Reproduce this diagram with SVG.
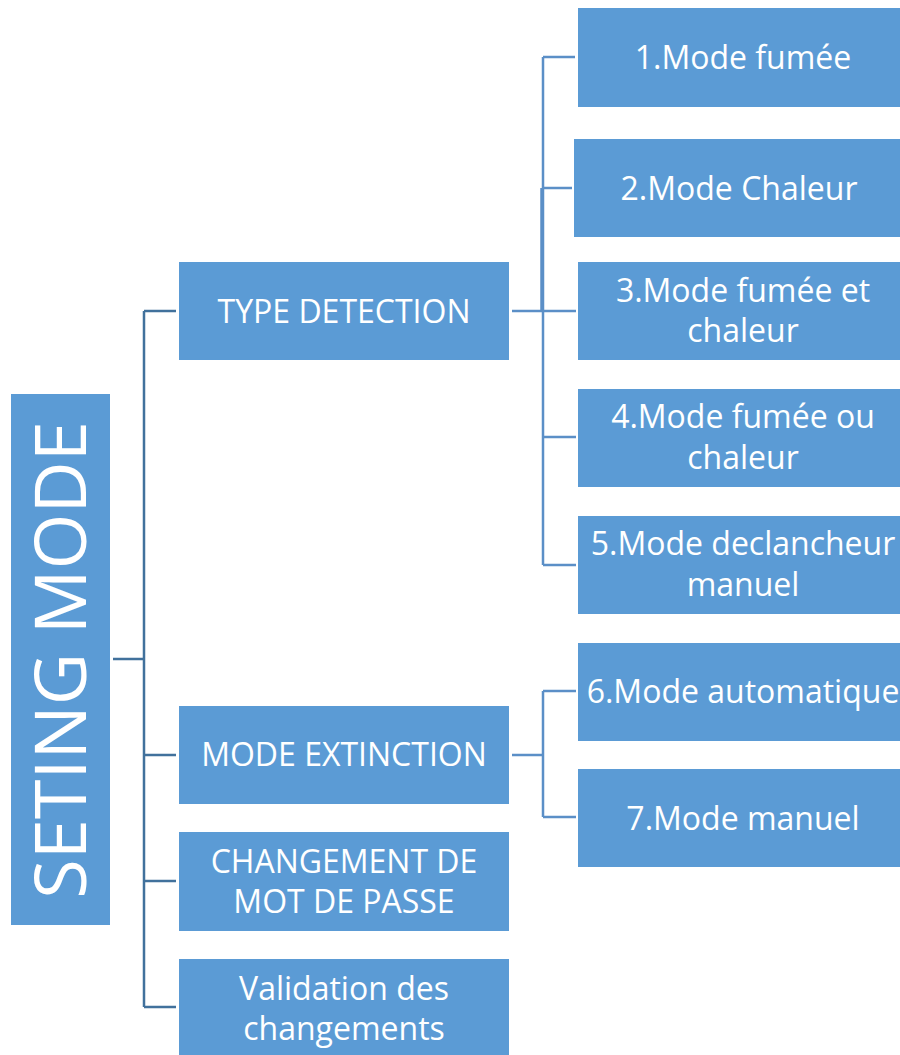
<svg xmlns="http://www.w3.org/2000/svg" width="900" height="1055" viewBox="0 0 900 1055">
  <style>
    .box { fill: #5b9bd5; }
    .lbl { fill: #ffffff; font-family: "Open Sans", Lato, "Liberation Sans", sans-serif; font-size: 32px; text-anchor: middle; dominant-baseline: central; }
    .root { font-size: 72px; }
    .wire-l { fill: none; stroke: #41719c; stroke-width: 2.5; }
    .wire-r { fill: none; stroke: #5b8fc7; stroke-width: 2.5; }
  </style>
  <rect width="900" height="1055" fill="#ffffff"/>

  <!-- connectors -->
  <g id="connectors">
    <path class="wire-l" d="M113 659 H144 M144 311 V1007 M144 311 H176 M144 755 H176 M144 881 H176 M144 1007 H176"/>
    <path class="wire-r" d="M512 311 H576 M543 57 V565 M543 57 H575 M543 188 H572 M543 437 H576 M543 565 H576"/>
    <path class="wire-r" d="M541.5 188 V311" stroke-width="3.5"/>
    <path class="wire-r" d="M512 755 H543 M543 691 V817 M543 691 H576 M543 817 H576"/>
  </g>

  <!-- root -->
  <g id="root">
    <rect class="box" x="11" y="394" width="99" height="531"/>
    <text class="lbl root" transform="translate(58 660) rotate(-90)">SETING MODE</text>
  </g>

  <!-- level 1 -->
  <g id="type-detection">
    <rect class="box" x="179" y="262" width="330" height="98"/>
    <text class="lbl" x="344" y="310">TYPE DETECTION</text>
  </g>
  <g id="mode-extinction">
    <rect class="box" x="179" y="706" width="330" height="98"/>
    <text class="lbl" x="344" y="753">MODE EXTINCTION</text>
  </g>
  <g id="mot-de-passe">
    <rect class="box" x="179" y="832" width="330" height="99"/>
    <text class="lbl" x="344" y="860">CHANGEMENT DE</text>
    <text class="lbl" x="344" y="900">MOT DE PASSE</text>
  </g>
  <g id="validation">
    <rect class="box" x="179" y="959" width="330" height="100"/>
    <text class="lbl" x="344" y="987">Validation des</text>
    <text class="lbl" x="344" y="1027">changements</text>
  </g>

  <!-- level 2 -->
  <g id="mode-1">
    <rect class="box" x="578" y="8" width="322" height="99"/>
    <text class="lbl" x="743" y="56">1.Mode fumée</text>
  </g>
  <g id="mode-2">
    <rect class="box" x="574" y="139" width="326" height="98"/>
    <text class="lbl" x="739" y="187">2.Mode Chaleur</text>
  </g>
  <g id="mode-3">
    <rect class="box" x="578" y="262" width="322" height="98"/>
    <text class="lbl" x="743" y="289">3.Mode fumée et</text>
    <text class="lbl" x="743" y="329">chaleur</text>
  </g>
  <g id="mode-4">
    <rect class="box" x="578" y="389" width="322" height="98"/>
    <text class="lbl" x="743" y="415">4.Mode fumée ou</text>
    <text class="lbl" x="743" y="456">chaleur</text>
  </g>
  <g id="mode-5">
    <rect class="box" x="578" y="516" width="322" height="98"/>
    <text class="lbl" x="743" y="542">5.Mode declancheur</text>
    <text class="lbl" x="743" y="583">manuel</text>
  </g>
  <g id="mode-6">
    <rect class="box" x="578" y="643" width="322" height="98"/>
    <text class="lbl" x="743" y="690">6.Mode automatique</text>
  </g>
  <g id="mode-7">
    <rect class="box" x="578" y="769" width="322" height="98"/>
    <text class="lbl" x="743" y="817">7.Mode manuel</text>
  </g>
</svg>
